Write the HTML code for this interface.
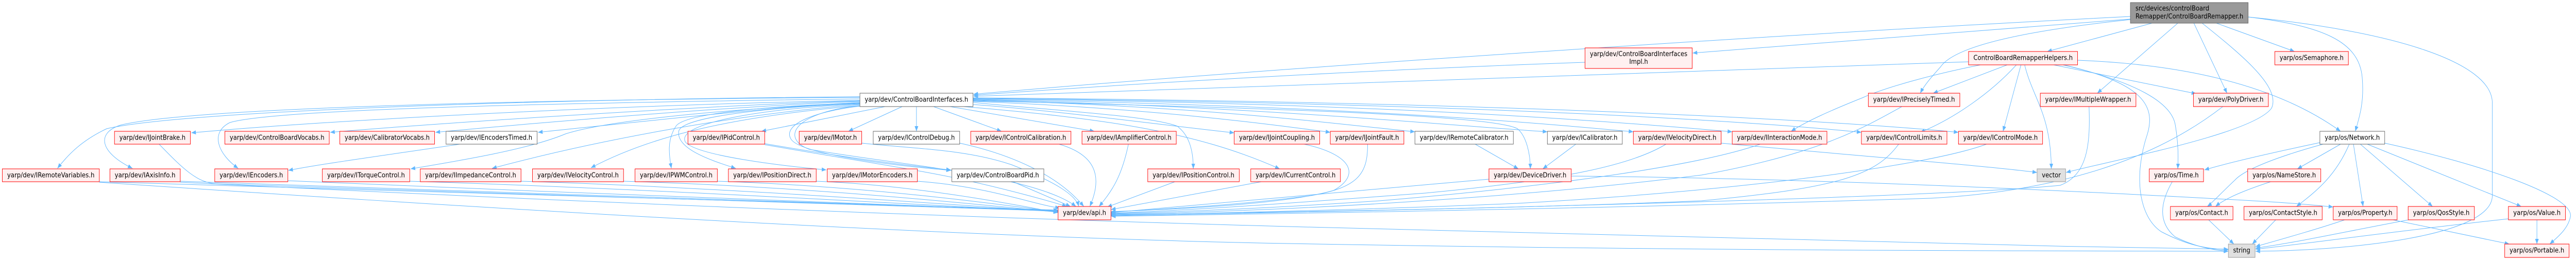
<!DOCTYPE html>
<html><head><meta charset="utf-8"><style>
html,body{margin:0;padding:0;background:#fff;width:100%;height:100%;overflow:hidden;}
svg{display:block;width:100vw;height:100vh;}
.r{fill:#fff0f0;stroke:#ff0000;stroke-width:1;}
.g{fill:#ffffff;stroke:#666666;stroke-width:1;}
.s{fill:#e0e0e0;stroke:#999999;stroke-width:1;}
.rt{fill:#999999;stroke:#666666;stroke-width:1;}
.e path{fill:none;stroke:#63b8ff;stroke-width:1;}
text{font-family:"DejaVu Sans","Liberation Sans",sans-serif;font-size:13px;fill:#000;}
.c{text-anchor:middle;}
</style></head><body>
<svg viewBox="0 0 5602 505" preserveAspectRatio="none" xmlns="http://www.w3.org/2000/svg">
<defs>
<marker id="a" markerWidth="10" markerHeight="8" refX="10" refY="4" orient="auto" markerUnits="userSpaceOnUse"><path d="M0,0 L10,4 L0,8 z" fill="#63b8ff"/></marker>
</defs>
<rect x="0" y="0" width="5602" height="505" fill="#fff"/>
<g class="e">
<path marker-end="url(#a)" d="M1870,188 C1200,192 400,215 232,250 C180,272 150,298 125,327"/>
<path marker-end="url(#a)" d="M1870,189 C1000,195 400,213 262,243 C210,258 215,295 288,327"/>
<path marker-end="url(#a)" d="M1870,192 C1200,200 600,212 500,238 C455,258 475,300 518,327"/>
<path marker-end="url(#a)" d="M1870,195 C1300,205 700,235 416,258"/>
<path marker-end="url(#a)" d="M1870,196 C1600,202 1000,236 718,257"/>
<path marker-end="url(#a)" d="M1870,197 C1600,206 1200,236 947,257"/>
<path marker-end="url(#a)" d="M1870,199 C1700,206 1400,236 1170,257"/>
<path marker-end="url(#a)" d="M1870,200 C1500,215 1300,240 1230,260 C1150,290 1000,312 893,328"/>
<path marker-end="url(#a)" d="M1870,203 C1600,222 1300,272 1070,327"/>
<path marker-end="url(#a)" d="M1870,205 C1600,226 1420,262 1285,326"/>
<path marker-end="url(#a)" d="M1870,200 C1700,205 1490,218 1470,245 C1450,272 1455,300 1460,327"/>
<path marker-end="url(#a)" d="M1870,201 C1700,207 1482,225 1476,255 C1470,292 1560,315 1600,327"/>
<path marker-end="url(#a)" d="M1870,202 C1650,211 1472,240 1490,275 C1510,302 1700,322 1797,330"/>
<path marker-end="url(#a)" d="M1872,206 C1780,215 1700,240 1720,270 C1740,300 1950,322 2068,331"/>
<path marker-end="url(#a)" d="M1925,207 L1656,255"/>
<path marker-end="url(#a)" d="M1962,207 L1845,255"/>
<path marker-end="url(#a)" d="M1993,207 L1993,255"/>
<path marker-end="url(#a)" d="M2030,207 L2178,255"/>
<path marker-end="url(#a)" d="M2066,207 L2380,255"/>
<path marker-end="url(#a)" d="M2116,203 C2300,215 2500,240 2684,258"/>
<path marker-end="url(#a)" d="M2116,199 C2300,215 2500,225 2560,245 C2590,265 2595,300 2595,328"/>
<path marker-end="url(#a)" d="M2095,207 C2400,230 2600,255 2783,328"/>
<path marker-end="url(#a)" d="M2116,197 C2500,210 2750,240 2893,257"/>
<path marker-end="url(#a)" d="M2116,195 C2600,205 2900,240 3077,256"/>
<path marker-end="url(#a)" d="M2116,194 C2700,205 3100,240 3365,256"/>
<path marker-end="url(#a)" d="M2116,196 C2800,210 3250,225 3300,250 C3320,265 3328,300 3328,328"/>
<path marker-end="url(#a)" d="M2116,193 C2900,205 3300,235 3552,256"/>
<path marker-end="url(#a)" d="M2116,192 C3000,200 3500,235 3767,256"/>
<path marker-end="url(#a)" d="M2116,191 C3200,200 3800,235 4048,257"/>
<path marker-end="url(#a)" d="M2116,190 C3300,198 4000,235 4259,257"/>
<path marker-end="url(#a)" d="M1870,205 C1720,220 1700,270 1760,290 C1950,320 2250,340 2340,401"/>
<path marker-end="url(#a)" d="M216,353 C900,372 1800,395 2301,408"/>
<path marker-end="url(#a)" d="M392,352 C1000,370 1800,396 2301,409"/>
<path marker-end="url(#a)" d="M346,280 C400,330 430,355 470,357 C1000,372 1800,397 2301,410"/>
<path marker-end="url(#a)" d="M626,351 C1200,372 1900,400 2301,410"/>
<path marker-end="url(#a)" d="M891,352 C1400,366 2000,398 2301,411"/>
<path marker-end="url(#a)" d="M1133,352 C1600,365 2100,400 2301,411"/>
<path marker-end="url(#a)" d="M1356,352 C1800,364 2150,400 2301,412"/>
<path marker-end="url(#a)" d="M1560,352 C1900,362 2200,400 2301,412"/>
<path marker-end="url(#a)" d="M1775,352 C2000,360 2220,400 2301,413"/>
<path marker-end="url(#a)" d="M1995,352 C2150,362 2250,398 2305,404"/>
<path marker-end="url(#a)" d="M2203,353 L2328,401"/>
<path marker-end="url(#a)" d="M1663,281 C1850,310 2000,330 2100,350 C2200,370 2280,390 2320,401"/>
<path marker-end="url(#a)" d="M1663,279 C1800,300 1950,320 2068,330"/>
<path marker-end="url(#a)" d="M1874,278 C2000,290 2100,290 2200,320 C2300,355 2340,380 2346,401"/>
<path marker-end="url(#a)" d="M2087,278 C2200,300 2300,340 2357,401"/>
<path marker-end="url(#a)" d="M2303,280 C2380,300 2400,340 2370,401"/>
<path marker-end="url(#a)" d="M2454,280 C2440,340 2420,370 2390,401"/>
<path marker-end="url(#a)" d="M2555,353 L2408,402"/>
<path marker-end="url(#a)" d="M2743,353 L2416,407"/>
<path marker-end="url(#a)" d="M2836,280 C2940,300 2960,340 2900,370 C2800,395 2600,405 2416,411"/>
<path marker-end="url(#a)" d="M2974,280 C2975,340 2950,365 2850,380 C2700,398 2550,405 2416,412"/>
<path marker-end="url(#a)" d="M3238,348 C2900,375 2600,400 2416,413"/>
<path marker-end="url(#a)" d="M3623,280 C3550,320 3400,350 3100,375 C2800,395 2600,408 2416,414"/>
<path marker-end="url(#a)" d="M3828,280 C3700,320 3400,360 3000,390 C2750,405 2600,410 2416,415"/>
<path marker-end="url(#a)" d="M4136,207 C4050,250 3950,300 3700,340 C3300,385 2800,410 2416,416"/>
<path marker-end="url(#a)" d="M4129,280 C4080,340 4000,365 3700,390 C3300,405 2800,412 2416,417"/>
<path marker-end="url(#a)" d="M4320,280 C4200,320 3800,370 3300,395 C2900,410 2600,414 2416,418"/>
<path marker-end="url(#a)" d="M4543,207 C4546,280 4540,340 4480,360 C4200,385 3000,410 2416,419"/>
<path marker-end="url(#a)" d="M4834,207 C4700,300 4500,370 4200,385 C3500,405 2800,415 2416,420"/>
<path marker-end="url(#a)" d="M216,354 C900,395 2000,460 2800,473 S4200,487 4846,488"/>
<path marker-end="url(#a)" d="M392,354 C1200,390 2000,420 2800,440 S4200,475 4846,484"/>
<path marker-end="url(#a)" d="M4488,126 C4650,160 4690,200 4670,260 C4640,340 4650,420 4700,450 C4760,478 4800,483 4846,485"/>
<path marker-end="url(#a)" d="M4724,353 C4700,390 4690,430 4730,460 C4780,482 4820,486 4846,488"/>
<path marker-end="url(#a)" d="M4803,427 L4858,474"/>
<path marker-end="url(#a)" d="M4949,427 L4898,474"/>
<path marker-end="url(#a)" d="M5099,427 C5040,445 4960,465 4905,479"/>
<path marker-end="url(#a)" d="M5238,427 C5100,450 5000,470 4905,482"/>
<path marker-end="url(#a)" d="M5455,425 C5200,450 5000,475 4905,484"/>
<path marker-end="url(#a)" d="M4889,33 C5200,60 5420,120 5420,200 L5420,380 C5420,460 5100,487 4905,488"/>
<path marker-end="url(#a)" d="M5090,280 L4996,328"/>
<path marker-end="url(#a)" d="M5052,280 C4950,305 4880,330 4860,350 C4830,375 4810,395 4800,401"/>
<path marker-end="url(#a)" d="M5045,277 C4950,295 4850,315 4794,330"/>
<path marker-end="url(#a)" d="M5109,280 C5080,340 5040,370 4994,401"/>
<path marker-end="url(#a)" d="M5118,280 L5139,401"/>
<path marker-end="url(#a)" d="M5133,280 L5290,401"/>
<path marker-end="url(#a)" d="M5148,280 L5483,401"/>
<path marker-end="url(#a)" d="M5186,278 C5400,320 5595,380 5590,420 C5585,445 5560,462 5545,474"/>
<path marker-end="url(#a)" d="M5517,427 L5517,474"/>
<path marker-end="url(#a)" d="M5204,427 L5457,474"/>
<path marker-end="url(#a)" d="M4938,353 C4880,370 4840,385 4818,401"/>
<path marker-end="url(#a)" d="M3417,342 C3800,345 4300,360 4900,390 C5000,395 5050,400 5074,402"/>
<path marker-end="url(#a)" d="M4633,37 C4400,55 4000,80 3681,103"/>
<path marker-end="url(#a)" d="M4633,32 C3900,65 2800,130 2117,183"/>
<path marker-end="url(#a)" d="M4680,45 L4452,100"/>
<path marker-end="url(#a)" d="M4633,38 C4400,60 4250,90 4220,130 C4200,150 4185,165 4176,181"/>
<path marker-end="url(#a)" d="M4736,45 L4561,181"/>
<path marker-end="url(#a)" d="M4771,45 L4843,181"/>
<path marker-end="url(#a)" d="M4789,45 C4880,110 4960,170 4940,210 C4900,260 4600,310 4493,335"/>
<path marker-end="url(#a)" d="M4820,45 L4990,100"/>
<path marker-end="url(#a)" d="M4889,33 C5050,50 5130,80 5137,150 C5142,200 5130,230 5122,255"/>
<path marker-end="url(#a)" d="M4281,120 C4000,125 3500,143 2800,166 C2500,175 2300,183 2117,187"/>
<path marker-end="url(#a)" d="M4307,126 C4200,145 4100,170 4050,190 C3980,215 3930,235 3895,255"/>
<path marker-end="url(#a)" d="M4365,126 L4204,181"/>
<path marker-end="url(#a)" d="M4385,126 C4330,180 4250,230 4176,257"/>
<path marker-end="url(#a)" d="M4395,126 L4356,255"/>
<path marker-end="url(#a)" d="M4403,126 C4420,190 4460,220 4461,328"/>
<path marker-end="url(#a)" d="M4466,126 L4776,182"/>
<path marker-end="url(#a)" d="M4486,126 C4650,160 4720,200 4730,240 C4738,280 4737,310 4736,328"/>
<path marker-end="url(#a)" d="M4518,117 C4750,125 4950,165 5090,255"/>
<path marker-end="url(#a)" d="M3447,121 C3000,135 2500,160 2117,185"/>
<path marker-end="url(#a)" d="M3208,280 L3302,328"/>
<path marker-end="url(#a)" d="M3427,280 L3355,328"/>
<path marker-end="url(#a)" d="M3743,278 C4000,300 4300,320 4430,335"/>
<path marker-end="url(#a)" d="M1000,280 C850,300 700,318 627,331"/>
</g>

<rect class="rt" x="4633" y="5" width="256" height="40"/>
<text x="4644" y="20.5">src/devices/controlBoard</text>
<text x="4644" y="36">Remapper/ControlBoardRemapper.h</text>

<rect class="r" x="3447" y="93" width="233" height="40"/>
<text class="c" x="3563.5" y="109">yarp/dev/ControlBoardInterfaces</text>
<text class="c" x="3563.5" y="124">Impl.h</text>
<rect class="r" x="4281" y="100" width="237" height="26"/><text class="c" x="4399.5" y="116.5" textLength="216" lengthAdjust="spacingAndGlyphs">ControlBoardRemapperHelpers.h</text>
<rect class="r" x="4947" y="100" width="160" height="26"/><text class="c" x="5027" y="116.5" textLength="139" lengthAdjust="spacingAndGlyphs">yarp/os/Semaphore.h</text>

<rect class="g" x="1870" y="181" width="246" height="26"/><text class="c" x="1993" y="197.5" textLength="225" lengthAdjust="spacingAndGlyphs">yarp/dev/ControlBoardInterfaces.h</text>
<rect class="r" x="4063" y="181" width="199" height="26"/><text class="c" x="4162.5" y="197.5" textLength="178" lengthAdjust="spacingAndGlyphs">yarp/dev/IPreciselyTimed.h</text>
<rect class="r" x="4437" y="181" width="208" height="26"/><text class="c" x="4541" y="197.5" textLength="187" lengthAdjust="spacingAndGlyphs">yarp/dev/IMultipleWrapper.h</text>
<rect class="r" x="4770" y="181" width="163" height="26"/><text class="c" x="4851.5" y="197.5" textLength="142" lengthAdjust="spacingAndGlyphs">yarp/dev/PolyDriver.h</text>

<rect class="r" x="249" y="255" width="165" height="25"/><text class="c" x="331.5" y="271.5" textLength="144" lengthAdjust="spacingAndGlyphs">yarp/dev/IJointBrake.h</text>
<rect class="r" x="489" y="255" width="227" height="25"/><text class="c" x="602.5" y="271.5" textLength="206" lengthAdjust="spacingAndGlyphs">yarp/dev/ControlBoardVocabs.h</text>
<rect class="r" x="739" y="255" width="206" height="25"/><text class="c" x="842" y="271.5" textLength="185" lengthAdjust="spacingAndGlyphs">yarp/dev/CalibratorVocabs.h</text>
<rect class="g" x="970" y="255" width="198" height="25"/><text class="c" x="1069" y="271.5" textLength="177" lengthAdjust="spacingAndGlyphs">yarp/dev/IEncodersTimed.h</text>
<rect class="r" x="1496" y="255" width="167" height="25"/><text class="c" x="1579.5" y="271.5" textLength="146" lengthAdjust="spacingAndGlyphs">yarp/dev/IPidControl.h</text>
<rect class="r" x="1738" y="255" width="136" height="25"/><text class="c" x="1806" y="271.5" textLength="115" lengthAdjust="spacingAndGlyphs">yarp/dev/IMotor.h</text>
<rect class="g" x="1899" y="255" width="188" height="25"/><text class="c" x="1993" y="271.5" textLength="167" lengthAdjust="spacingAndGlyphs">yarp/dev/IControlDebug.h</text>
<rect class="r" x="2111" y="255" width="218" height="25"/><text class="c" x="2220" y="271.5" textLength="197" lengthAdjust="spacingAndGlyphs">yarp/dev/IControlCalibration.h</text>
<rect class="r" x="2353" y="255" width="205" height="25"/><text class="c" x="2455.5" y="271.5" textLength="184" lengthAdjust="spacingAndGlyphs">yarp/dev/IAmplifierControl.h</text>
<rect class="r" x="2684" y="255" width="186" height="25"/><text class="c" x="2777" y="271.5" textLength="165" lengthAdjust="spacingAndGlyphs">yarp/dev/IJointCoupling.h</text>
<rect class="r" x="2893" y="255" width="160" height="25"/><text class="c" x="2973" y="271.5" textLength="139" lengthAdjust="spacingAndGlyphs">yarp/dev/IJointFault.h</text>
<rect class="g" x="3077" y="255" width="214" height="25"/><text class="c" x="3184" y="271.5" textLength="193" lengthAdjust="spacingAndGlyphs">yarp/dev/IRemoteCalibrator.h</text>
<rect class="g" x="3365" y="255" width="163" height="25"/><text class="c" x="3446.5" y="271.5" textLength="142" lengthAdjust="spacingAndGlyphs">yarp/dev/ICalibrator.h</text>
<rect class="r" x="3552" y="255" width="191" height="25"/><text class="c" x="3647.5" y="271.5" textLength="170" lengthAdjust="spacingAndGlyphs">yarp/dev/IVelocityDirect.h</text>
<rect class="r" x="3767" y="255" width="206" height="25"/><text class="c" x="3870" y="271.5" textLength="185" lengthAdjust="spacingAndGlyphs">yarp/dev/IInteractionMode.h</text>
<rect class="r" x="4048" y="255" width="186" height="25"/><text class="c" x="4141" y="271.5" textLength="165" lengthAdjust="spacingAndGlyphs">yarp/dev/IControlLimits.h</text>
<rect class="r" x="4259" y="255" width="183" height="25"/><text class="c" x="4350.5" y="271.5" textLength="162" lengthAdjust="spacingAndGlyphs">yarp/dev/IControlMode.h</text>
<rect class="g" x="5045" y="255" width="141" height="25"/><text class="c" x="5115.5" y="271.5" textLength="120" lengthAdjust="spacingAndGlyphs">yarp/os/Network.h</text>

<rect class="r" x="5" y="328" width="211" height="25"/><text class="c" x="110.5" y="344.5" textLength="190" lengthAdjust="spacingAndGlyphs">yarp/dev/IRemoteVariables.h</text>
<rect class="r" x="239" y="328" width="153" height="25"/><text class="c" x="315.5" y="344.5" textLength="132" lengthAdjust="spacingAndGlyphs">yarp/dev/IAxisInfo.h</text>
<rect class="r" x="467" y="328" width="159" height="25"/><text class="c" x="546.5" y="344.5" textLength="138" lengthAdjust="spacingAndGlyphs">yarp/dev/IEncoders.h</text>
<rect class="r" x="701" y="328" width="190" height="25"/><text class="c" x="796" y="344.5" textLength="169" lengthAdjust="spacingAndGlyphs">yarp/dev/ITorqueControl.h</text>
<rect class="r" x="914" y="328" width="219" height="25"/><text class="c" x="1023.5" y="344.5" textLength="198" lengthAdjust="spacingAndGlyphs">yarp/dev/IImpedanceControl.h</text>
<rect class="r" x="1158" y="328" width="198" height="25"/><text class="c" x="1257" y="344.5" textLength="177" lengthAdjust="spacingAndGlyphs">yarp/dev/IVelocityControl.h</text>
<rect class="r" x="1381" y="328" width="179" height="25"/><text class="c" x="1470.5" y="344.5" textLength="158" lengthAdjust="spacingAndGlyphs">yarp/dev/IPWMControl.h</text>
<rect class="r" x="1584" y="328" width="191" height="25"/><text class="c" x="1679.5" y="344.5" textLength="170" lengthAdjust="spacingAndGlyphs">yarp/dev/IPositionDirect.h</text>
<rect class="r" x="1799" y="328" width="196" height="25"/><text class="c" x="1897" y="344.5" textLength="175" lengthAdjust="spacingAndGlyphs">yarp/dev/IMotorEncoders.h</text>
<rect class="g" x="2070" y="328" width="200" height="25"/><text class="c" x="2170" y="344.5" textLength="179" lengthAdjust="spacingAndGlyphs">yarp/dev/ControlBoardPid.h</text>
<rect class="r" x="2496" y="328" width="199" height="25"/><text class="c" x="2595.5" y="344.5" textLength="178" lengthAdjust="spacingAndGlyphs">yarp/dev/IPositionControl.h</text>
<rect class="r" x="2720" y="328" width="195" height="25"/><text class="c" x="2817.5" y="344.5" textLength="174" lengthAdjust="spacingAndGlyphs">yarp/dev/ICurrentControl.h</text>
<rect class="r" x="3238" y="328" width="179" height="25"/><text class="c" x="3327.5" y="344.5" textLength="158" lengthAdjust="spacingAndGlyphs">yarp/dev/DeviceDriver.h</text>
<rect class="s" x="4430" y="328" width="62" height="25"/><text class="c" x="4461" y="344.5">vector</text>
<rect class="r" x="4674" y="328" width="118" height="25"/><text class="c" x="4733" y="344.5" textLength="97" lengthAdjust="spacingAndGlyphs">yarp/os/Time.h</text>
<rect class="r" x="4888" y="328" width="159" height="25"/><text class="c" x="4967.5" y="344.5" textLength="138" lengthAdjust="spacingAndGlyphs">yarp/os/NameStore.h</text>

<rect class="r" x="2301" y="401" width="115" height="26"/><text class="c" x="2358.5" y="417.5" textLength="94" lengthAdjust="spacingAndGlyphs">yarp/dev/api.h</text>
<rect class="r" x="4720" y="401" width="136" height="26"/><text class="c" x="4788" y="417.5" textLength="115" lengthAdjust="spacingAndGlyphs">yarp/os/Contact.h</text>
<rect class="r" x="4880" y="401" width="170" height="26"/><text class="c" x="4965" y="417.5" textLength="149" lengthAdjust="spacingAndGlyphs">yarp/os/ContactStyle.h</text>
<rect class="r" x="5074" y="401" width="139" height="26"/><text class="c" x="5143.5" y="417.5" textLength="118" lengthAdjust="spacingAndGlyphs">yarp/os/Property.h</text>
<rect class="r" x="5237" y="401" width="144" height="26"/><text class="c" x="5309" y="417.5" textLength="123" lengthAdjust="spacingAndGlyphs">yarp/os/QosStyle.h</text>
<rect class="r" x="5455" y="401" width="124" height="26"/><text class="c" x="5517" y="417.5" textLength="103" lengthAdjust="spacingAndGlyphs">yarp/os/Value.h</text>

<rect class="s" x="4846" y="474" width="58" height="26"/><text class="c" x="4875" y="490.5">string</text>
<rect class="r" x="5447" y="474" width="140" height="26"/><text class="c" x="5517" y="490.5" textLength="119" lengthAdjust="spacingAndGlyphs">yarp/os/Portable.h</text>
</svg>
</body></html>
